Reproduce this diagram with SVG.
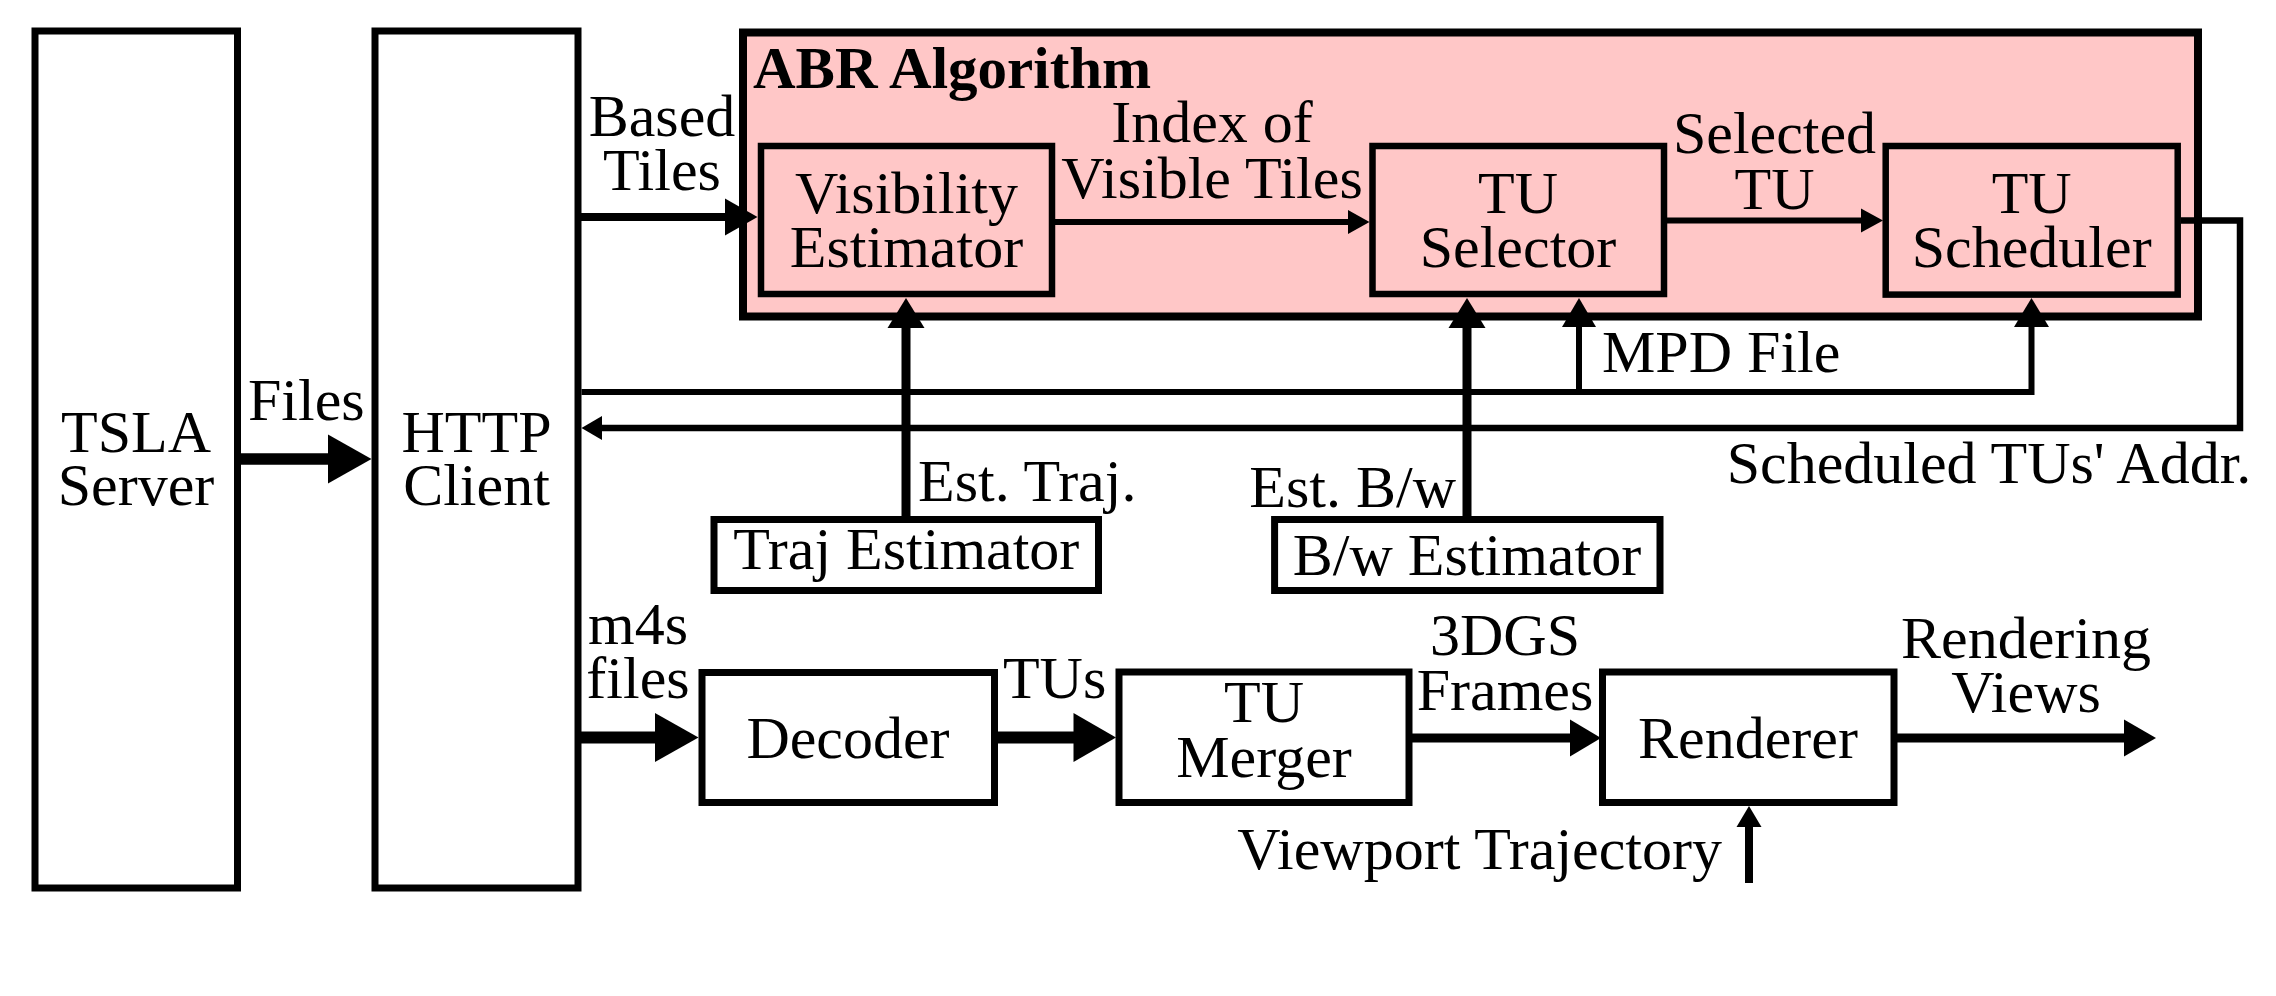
<svg xmlns="http://www.w3.org/2000/svg" width="2276" height="996" viewBox="0 0 2276 996">
<style>
text{font-family:"Liberation Serif","Times New Roman",serif;font-size:60px;fill:#000}
.c{text-anchor:middle}
.e{text-anchor:end}
.b{font-weight:bold;font-size:59px}
.box{fill:#fff;stroke:#000;stroke-width:7}
.pbox{fill:#FFC7C7;stroke:#000;stroke-width:6.5}
.ln{fill:none;stroke:#000;stroke-linejoin:miter;stroke-linecap:butt}
.hd{fill:#000}
</style>
<rect width="2276" height="996" fill="#fff"/>
<g id="abr">
<rect x="743" y="32.5" width="1455" height="284" fill="#FFC7C7" stroke="#000" stroke-width="8"/>
<text x="753" y="88" class="b">ABR Algorithm</text>
</g>
<g id="tsla">
<rect class="box" x="35" y="31" width="202.5" height="857"/>
<text class="c" x="136" y="452">TSLA</text>
<text class="c" x="136" y="505">Server</text>
</g>
<g id="http">
<rect class="box" x="375" y="31" width="203" height="857"/>
<text class="c" x="476.5" y="452">HTTP</text>
<text class="c" x="476.5" y="505">Client</text>
</g>
<g id="visibility">
<rect class="pbox" x="761" y="146" width="291" height="148"/>
<text class="c" x="906.5" y="213">Visibility</text>
<text class="c" x="906.5" y="266.7">Estimator</text>
</g>
<g id="selector">
<rect class="pbox" x="1372.5" y="146" width="291.5" height="148"/>
<text class="c" x="1518" y="213">TU</text>
<text class="c" x="1518" y="266.7">Selector</text>
</g>
<g id="scheduler">
<rect class="pbox" x="1885.7" y="146" width="292" height="148.6"/>
<text class="c" x="2031.7" y="213">TU</text>
<text class="c" x="2031.7" y="266.7">Scheduler</text>
</g>
<g id="traj">
<rect class="box" x="714" y="519.5" width="384.5" height="71" stroke-width="6.5"/>
<text class="c" x="906.3" y="569">Traj Estimator</text>
</g>
<g id="bw">
<rect class="box" x="1274.6" y="519.5" width="385.4" height="71" stroke-width="6.5"/>
<text class="c" x="1467" y="575">B/w Estimator</text>
</g>
<g id="decoder">
<rect class="box" x="702" y="672.5" width="292.5" height="130"/>
<text class="c" x="848" y="757.5">Decoder</text>
</g>
<g id="merger">
<rect class="box" x="1119" y="672" width="290" height="130.5"/>
<text class="c" x="1264" y="722">TU</text>
<text class="c" x="1264" y="776.6">Merger</text>
</g>
<g id="renderer">
<rect class="box" x="1602.5" y="672" width="291.5" height="130.5"/>
<text class="c" x="1748" y="757.5">Renderer</text>
</g>
<g id="connectors">
<line class="ln" x1="241" y1="459" x2="330" y2="459" stroke-width="11.5"/>
<polygon class="hd" points="328,434.5 371.5,459 328,483.5"/>
<line class="ln" x1="581" y1="217" x2="727" y2="217" stroke-width="8"/>
<polygon class="hd" points="725,198.5 757.5,217 725,235.5"/>
<line class="ln" x1="1055" y1="222" x2="1350" y2="222" stroke-width="6"/>
<polygon class="hd" points="1348,210 1369.5,222 1348,234"/>
<line class="ln" x1="1667" y1="220.5" x2="1863" y2="220.5" stroke-width="6"/>
<polygon class="hd" points="1861,208.5 1883,220.5 1861,232.5"/>
<polyline class="ln" points="2181,220.5 2240,220.5 2240,428 600,428" stroke-width="6.5"/>
<polygon class="hd" points="602,416 581.5,428 602,440"/>
<polyline class="ln" points="581.5,392 2031.5,392 2031.5,325" stroke-width="6"/>
<polygon class="hd" points="2014,327 2031.5,298 2049,327"/>
<line class="ln" x1="1579" y1="392" x2="1579" y2="325" stroke-width="6"/>
<polygon class="hd" points="1562,327 1579,298 1596,327"/>
<line class="ln" x1="906" y1="516" x2="906" y2="326" stroke-width="9"/>
<polygon class="hd" points="887.5,328 906,298 924.5,328"/>
<line class="ln" x1="1467" y1="516" x2="1467" y2="326" stroke-width="9"/>
<polygon class="hd" points="1448.5,328 1467,298 1485.5,328"/>
<line class="ln" x1="581" y1="737.6" x2="657" y2="737.6" stroke-width="12"/>
<polygon class="hd" points="655,713 698.5,737.6 655,762"/>
<line class="ln" x1="997.8" y1="737.6" x2="1075" y2="737.6" stroke-width="12"/>
<polygon class="hd" points="1073.5,713 1116,737.6 1073.5,762"/>
<line class="ln" x1="1412" y1="738" x2="1572" y2="738" stroke-width="9"/>
<polygon class="hd" points="1570,719.5 1601,738 1570,756.5"/>
<line class="ln" x1="1897" y1="738" x2="2126" y2="738" stroke-width="9"/>
<polygon class="hd" points="2124,719.5 2156,738 2124,756.5"/>
<line class="ln" x1="1749" y1="883" x2="1749" y2="825" stroke-width="8"/>
<polygon class="hd" points="1736.5,827 1749,806 1761.5,827"/>
</g>
<g id="labels">
<text class="c" x="662" y="136">Based</text>
<text class="c" x="662" y="190">Tiles</text>
<text x="248" y="420">Files</text>
<text class="c" x="1212" y="142">Index of</text>
<text class="c" x="1212" y="197.5">Visible Tiles</text>
<text class="c" x="1774.5" y="153">Selected</text>
<text class="c" x="1774.5" y="208.6">TU</text>
<text x="1602" y="372">MPD File</text>
<text class="c" x="1989" y="483">Scheduled TUs' Addr.</text>
<text x="918" y="501">Est. Traj.</text>
<text class="e" x="1456" y="507">Est. B/w</text>
<text class="c" x="638" y="644">m4s</text>
<text class="c" x="638" y="697.6">files</text>
<text class="c" x="1054.6" y="698">TUs</text>
<text class="c" x="1505" y="655">3DGS</text>
<text class="c" x="1505" y="710">Frames</text>
<text class="c" x="2026" y="658">Rendering</text>
<text class="c" x="2026" y="712">Views</text>
<text class="e" x="1722" y="869">Viewport Trajectory</text>
</g>
</svg>
